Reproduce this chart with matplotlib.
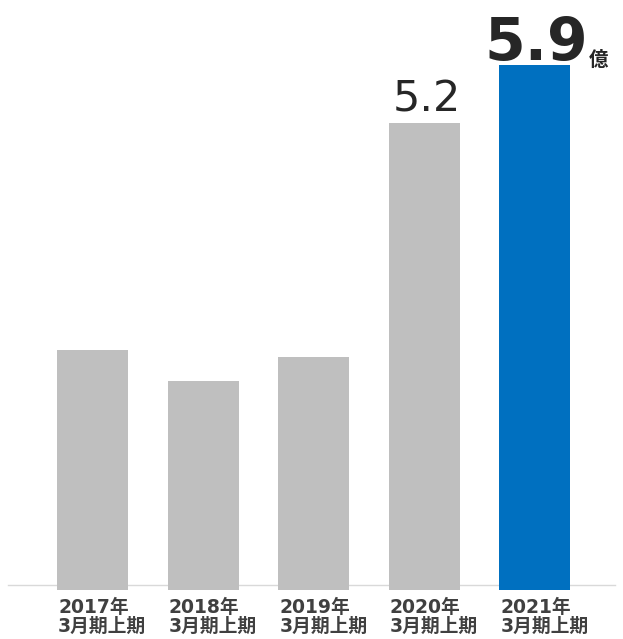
import matplotlib
matplotlib.use("Agg")
import matplotlib.pyplot as plt

plt.rcParams['font.family'] = ['Noto Sans CJK JP', 'DejaVu Sans']

# Data (億)
years = ["2017年", "2018年", "2019年", "2020年", "2021年"]
periods = ["3月期上期"] * 5
values = [2.70, 2.35, 2.62, 5.25, 5.90]
colors = ["#bfbfbf", "#bfbfbf", "#bfbfbf", "#bfbfbf", "#0070c0"]

W, H, DPI = 623, 639, 100
fig = plt.figure(figsize=(W / DPI, H / DPI), dpi=DPI)
base_px = 590  # from top
px_per_unit = 89.0
spacing = 110.6
x0 = 92.5
ax = fig.add_axes([0, (H - base_px) / H, 1, base_px / H])
ax.set_xlim(-x0 / spacing, (W - x0) / spacing)
ax.set_ylim(0, base_px / px_per_unit)
ax.axis('off')

bw = 71 / spacing
xs = list(range(len(values)))
ax.bar(xs, values, width=bw, color=colors, zorder=2)

# baseline line
ax.axhline(5 / px_per_unit, xmin=8 / W, xmax=615 / W, color="#d9d9d9", lw=1, zorder=1)

txt_col = "#404040"
lab_fam = ['DejaVu Sans', 'Noto Sans CJK JP']
for i in xs:
    ax.annotate(years[i], xy=(i - bw / 2, 0), xytext=(1, -23), textcoords='offset pixels',
                ha='left', va='baseline', fontsize=13.5, fontweight='bold', color=txt_col,
                family=lab_fam, annotation_clip=False)
    ax.annotate(periods[i], xy=(i - bw / 2, 0), xytext=(1, -42), textcoords='offset pixels',
                ha='left', va='baseline', fontsize=13.5, fontweight='bold', color=txt_col,
                family=lab_fam, annotation_clip=False)

# value labels
ax.annotate("5.2", xy=(3, values[3]), xytext=(3, 11), textcoords='offset pixels',
            ha='center', va='baseline', fontsize=31, color="#262626",
            family=['DejaVu Sans'])
ax.annotate("5.9", xy=(4, values[4]), xytext=(1, 5), textcoords='offset pixels',
            ha='center', va='baseline', fontsize=42, fontweight='bold', color="#262626",
            family=['DejaVu Sans'])
ax.annotate("億", xy=(4, values[4]), xytext=(54, -1), textcoords='offset pixels',
            ha='left', va='baseline', fontsize=14, fontweight='bold', color="#262626")

fig.savefig("out.png", dpi=DPI)
